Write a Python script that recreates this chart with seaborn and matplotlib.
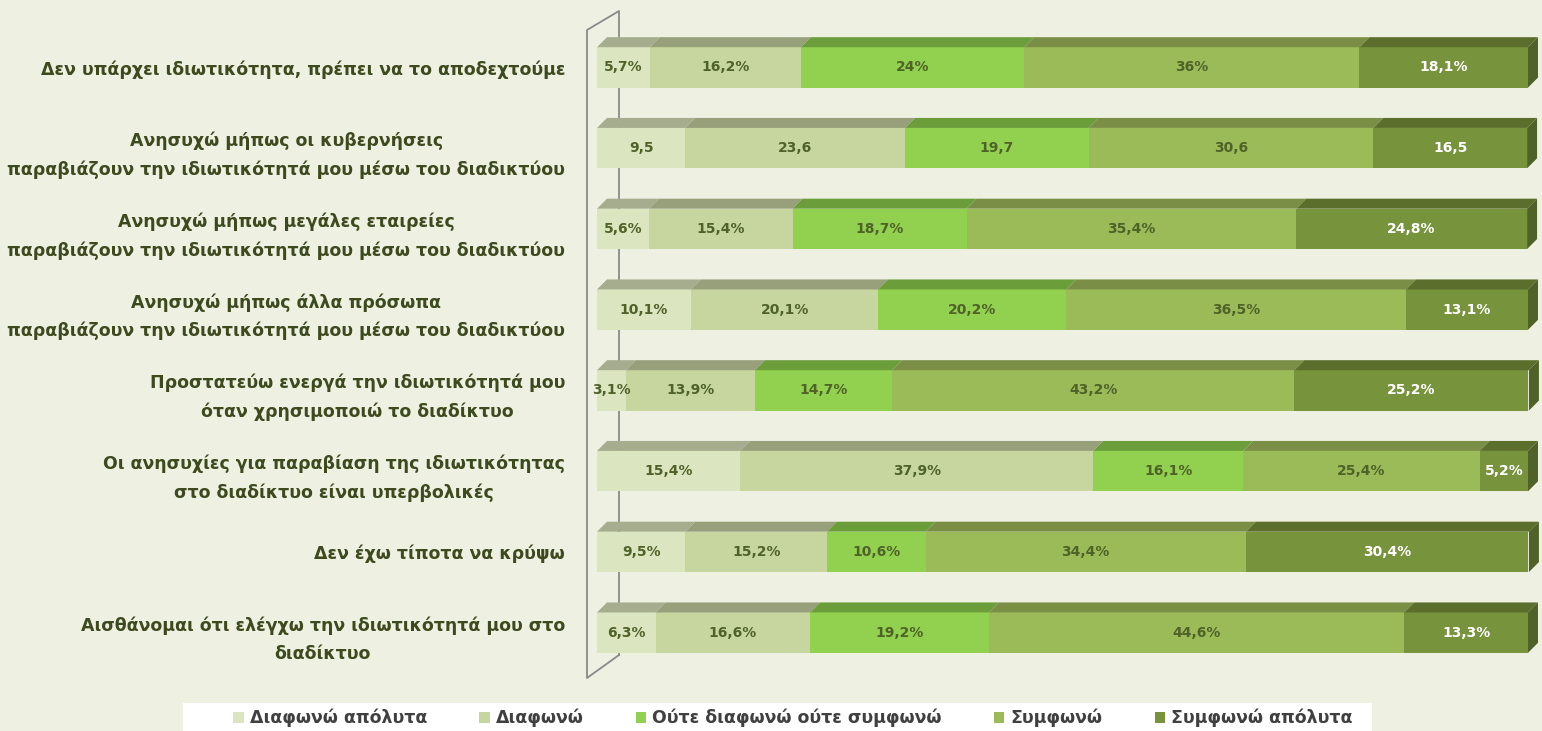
import matplotlib
matplotlib.use("Agg")
import matplotlib.pyplot as plt
import seaborn as sns
import pandas as pd
import numpy as np
from matplotlib.patches import Polygon, Patch, Rectangle
from matplotlib.transforms import Affine2D

# Δεδομένα
statements = [
    "Δεν υπάρχει ιδιωτικότητα, πρέπει να το αποδεχτούμε",
    "Ανησυχώ μήπως οι κυβερνήσεις\nπαραβιάζουν την ιδιωτικότητά μου μέσω του διαδικτύου",
    "Ανησυχώ μήπως μεγάλες εταιρείες\nπαραβιάζουν την ιδιωτικότητά μου μέσω του διαδικτύου",
    "Ανησυχώ μήπως άλλα πρόσωπα\nπαραβιάζουν την ιδιωτικότητά μου μέσω του διαδικτύου",
    "Προστατεύω ενεργά την ιδιωτικότητά μου\nόταν χρησιμοποιώ το διαδίκτυο",
    "Οι ανησυχίες για παραβίαση της ιδιωτικότητας\nστο διαδίκτυο είναι υπερβολικές",
    "Δεν έχω τίποτα να κρύψω",
    "Αισθάνομαι ότι ελέγχω την ιδιωτικότητά μου στο\nδιαδίκτυο",
]
categories = ["Διαφωνώ απόλυτα", "Διαφωνώ", "Ούτε διαφωνώ ούτε συμφωνώ",
              "Συμφωνώ", "Συμφωνώ απόλυτα"]

disagree_abs = [5.7, 9.5, 5.6, 10.1, 3.1, 15.4, 9.5, 6.3]
disagree = [16.2, 23.6, 15.4, 20.1, 13.9, 37.9, 15.2, 16.6]
neutral = [24.0, 19.7, 18.7, 20.2, 14.7, 16.1, 10.6, 19.2]
agree = [36.0, 30.6, 35.4, 36.5, 43.2, 25.4, 34.4, 44.6]
agree_abs = [18.1, 16.5, 24.8, 13.1, 25.2, 5.2, 30.4, 13.3]
suffix = ["%", "", "%", "%", "%", "%", "%", "%"]

front_colors = ["#dbe5c0", "#c6d69e", "#92d050", "#9bbb59", "#77933c"]
top_colors = ["#a6ad8e", "#979f7b", "#6b9d3b", "#7a8f45", "#5b6e2b"]
side_color = "#4f6228"
text_colors = ["#4f6228", "#4f6228", "#4f6228", "#4f6228", "white"]
bg = "#eef1e2"

W, H = 1542, 731
fig = plt.figure(figsize=(W / 100, H / 100), dpi=100, facecolor=bg)
ax = fig.add_axes([597 / W, 1 - 673 / H, 931 / W, 646 / H])
ax.set_facecolor("none")

series = [disagree_abs, disagree, neutral, agree, agree_abs]
vals = np.array(series).T
ends = np.cumsum(vals, axis=1)
starts = ends - vals

# Μπάρες (σωρευτικά, από τη μεγαλύτερη προς τη μικρότερη)
for k in reversed(range(5)):
    df = pd.DataFrame({"stmt": statements, "value": ends[:, k]})
    sns.barplot(data=df, x="value", y="stmt", orient="h", color=front_colors[k],
                saturation=1, width=0.5, linewidth=0, ax=ax, order=statements)

ax.set_xlim(0, 100)
ax.set_ylim(7.5, -0.5)

# 3D όψη: πάνω επιφάνεια και δεξιά πλευρά
dx = 10 / 9.31
dy = 10 / 80.75
for i in range(len(statements)):
    top = i - 0.25
    for k in range(5):
        l, r = starts[i, k], ends[i, k]
        ax.add_patch(Polygon([(l, top), (r, top), (r + dx, top - dy), (l + dx, top - dy)],
                             closed=True, facecolor=top_colors[k], edgecolor="none",
                             clip_on=False, zorder=2))
    r = ends[i, -1]
    ax.add_patch(Polygon([(r, top), (r + dx, top - dy), (r + dx, top + 0.5 - dy), (r, top + 0.5)],
                         closed=True, facecolor=side_color, edgecolor="none",
                         clip_on=False, zorder=2))
    for k in range(5):
        label = f"{vals[i, k]:g}".replace(".", ",") + suffix[i]
        ax.text((starts[i, k] + ends[i, k]) / 2, i, label, ha="center", va="center",
                fontsize=10, fontweight="bold", color=text_colors[k], zorder=3)

# Τοίχωμα αριστερά (σε pixel)
pix = Affine2D().scale(1 / W, -1 / H).translate(0, 1) + fig.transFigure
ax.plot([619, 587, 587, 619, 619], [655, 678, 30, 11, 655], color="#8a8a8a",
        lw=1.3, transform=pix, clip_on=False, zorder=0.5)

sns.despine(ax=ax, left=True, bottom=True)
ax.set_xlabel("")
ax.set_ylabel("")
ax.set_xticks([])
ax.set_yticks(range(len(statements)))
ax.set_yticklabels(statements, fontsize=12.5, fontweight="bold", color="#3c4a1e",
                   linespacing=1.7)
for t in ax.get_yticklabels():
    t.set_multialignment("center")
ax.tick_params(axis="y", length=0, pad=23)

# Υπόμνημα
fig.add_artist(Rectangle((183 / W, 0), 1189 / W, 28 / H, transform=fig.transFigure,
                         facecolor="white", edgecolor="none", zorder=1))
handles = [Patch(facecolor=c, edgecolor="none") for c in front_colors]
leg = fig.legend(handles, categories, loc="center", bbox_to_anchor=(793 / W, 1 - 718 / H),
                 ncol=5, frameon=False, handlelength=0.6, handleheight=0.6,
                 handletextpad=0.35, columnspacing=3.0, borderpad=0.2,
                 prop={"size": 12.5, "weight": "bold"})
leg.set_zorder(2)
for t in leg.get_texts():
    t.set_color("#404040")

fig.savefig("out.png", dpi=100, facecolor=bg)
